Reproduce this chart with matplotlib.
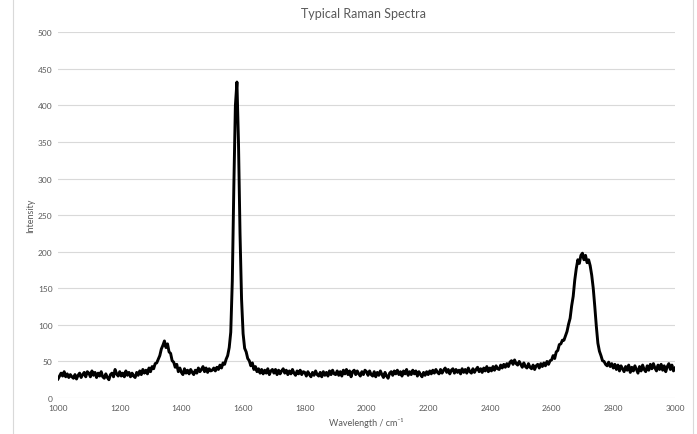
"""
Typical Raman spectrum (D, G and 2D bands), Excel-style line chart.
"""

import numpy as np
import matplotlib.pyplot as plt
from matplotlib.lines import Line2D


# =========================
# DATA (5 cm-1 steps)
# =========================
wavenumber = np.arange(1000, 3001, 5)

intensity = [
    # 1000 - 1095
    26, 30, 34, 30, 36, 29, 33, 28, 32, 29, 27, 32, 26, 31, 34, 28, 32, 35, 29, 36,
    # 1100 - 1195
    34, 29, 37, 31, 35, 28, 34, 30, 36, 29, 27, 33, 28, 25, 32, 34, 29, 39, 33, 30,
    # 1200 - 1295
    36, 30, 34, 29, 37, 31, 35, 29, 34, 30, 28, 35, 31, 37, 32, 39, 34, 38, 33, 41,
    # 1300 - 1395  (D band)
    36, 43, 40, 47, 48, 53, 58, 67, 72, 78, 69, 74, 63, 61, 51, 49, 42, 46, 36, 41,
    # 1400 - 1495
    35, 32, 40, 34, 38, 33, 39, 35, 32, 38, 34, 41, 36, 39, 43, 36, 41, 35, 40, 37,
    # 1500 - 1595  (G band)
    38, 41, 37, 42, 39, 45, 41, 48, 46, 53, 58, 69, 90, 160, 290, 400, 432, 350, 225, 135,
    # 1600 - 1695
    88, 68, 63, 54, 51, 44, 48, 39, 43, 36, 40, 34, 39, 33, 38, 34, 40, 32, 37, 39,
    # 1700 - 1795
    34, 39, 32, 38, 33, 37, 40, 34, 38, 32, 37, 33, 39, 34, 31, 37, 33, 38, 32, 36,
    # 1800 - 1895
    35, 30, 36, 32, 29, 35, 31, 37, 32, 30, 35, 29, 36, 31, 35, 30, 37, 32, 38, 33,
    # 1900 - 1995
    32, 37, 31, 36, 30, 38, 33, 39, 32, 37, 29, 36, 38, 32, 37, 33, 30, 36, 32, 38,
    # 2000 - 2095
    36, 31, 37, 32, 30, 36, 29, 35, 31, 37, 32, 28, 35, 30, 27, 34, 36, 31, 37, 33,
    # 2100 - 2195
    38, 32, 36, 30, 37, 33, 39, 31, 36, 32, 38, 33, 37, 30, 36, 32, 29, 35, 31, 36,
    # 2200 - 2295
    32, 37, 33, 38, 34, 39, 35, 33, 39, 34, 38, 41, 35, 39, 33, 38, 40, 34, 39, 35,
    # 2300 - 2395
    38, 33, 40, 35, 39, 34, 41, 36, 34, 40, 35, 39, 42, 36, 40, 35, 41, 37, 43, 36,
    # 2400 - 2495
    41, 37, 43, 38, 44, 40, 39, 45, 41, 46, 42, 47, 43, 49, 51, 46, 52, 47, 45, 50,
    # 2500 - 2595
    46, 42, 48, 43, 41, 47, 42, 40, 45, 39, 44, 46, 41, 47, 43, 48, 44, 50, 46, 51,
    # 2600 - 2695  (2D band)
    52, 58, 54, 63, 65, 73, 74, 79, 79, 85, 91, 101, 109, 126, 139, 161, 177, 189, 184, 195,
    # 2700 - 2795
    198, 189, 195, 185, 189, 181, 168, 150, 125, 98, 75, 64, 58, 51, 50, 46, 44, 49, 43, 47,
    # 2800 - 2895
    41, 46, 39, 45, 37, 44, 40, 36, 43, 38, 45, 35, 42, 37, 44, 39, 34, 43, 37, 45,
    # 2900 - 3000
    39, 36, 44, 38, 46, 40, 47, 41, 37, 45, 39, 46, 38, 44, 36, 43, 47, 39, 45, 37,
    41,
]

x_ticks = [1000, 1200, 1400, 1600, 1800, 2000, 2200, 2400, 2600, 2800, 3000]
y_ticks = [0, 50, 100, 150, 200, 250, 300, 350, 400, 450, 500]


# =========================
# STYLE
# =========================
plt.rcParams["font.family"] = ["Lato", "DejaVu Sans"]
TEXT_COL = "#595959"
GRID_COL = "#d9d9d9"

fig = plt.figure(figsize=(6.97, 4.35), dpi=100)
ax = fig.add_axes([58 / 697, 1 - 399 / 435, 617 / 697, 365.7 / 435])

ax.plot(wavenumber, intensity, color="black", linewidth=2.1, solid_joinstyle="round")

ax.set_xlim(1000, 3000)
ax.set_ylim(0, 500)
ax.set_xticks(x_ticks)
ax.set_yticks(y_ticks)
ax.tick_params(length=0, labelsize=6, labelcolor=TEXT_COL, pad=4)
ax.grid(axis="y", color=GRID_COL, linewidth=0.8)
ax.set_axisbelow(True)
for s in ax.spines.values():
    s.set_visible(False)

ax.set_xlabel("Wavelength / cm⁻¹", fontsize=6.5, color=TEXT_COL, labelpad=5)
ax.set_ylabel("Intensity", fontsize=6.5, color=TEXT_COL, labelpad=2)
fig.text(0.521, 0.967, "Typical Raman Spectra", ha="center", va="center",
         fontsize=9, color=TEXT_COL)

# chart-area border lines at left and right edges
for xp in (12.5 / 697, 693 / 697):
    fig.add_artist(Line2D([xp, xp], [0, 1], transform=fig.transFigure,
                          color=GRID_COL, linewidth=0.8))

fig.savefig("out.png", dpi=100)
